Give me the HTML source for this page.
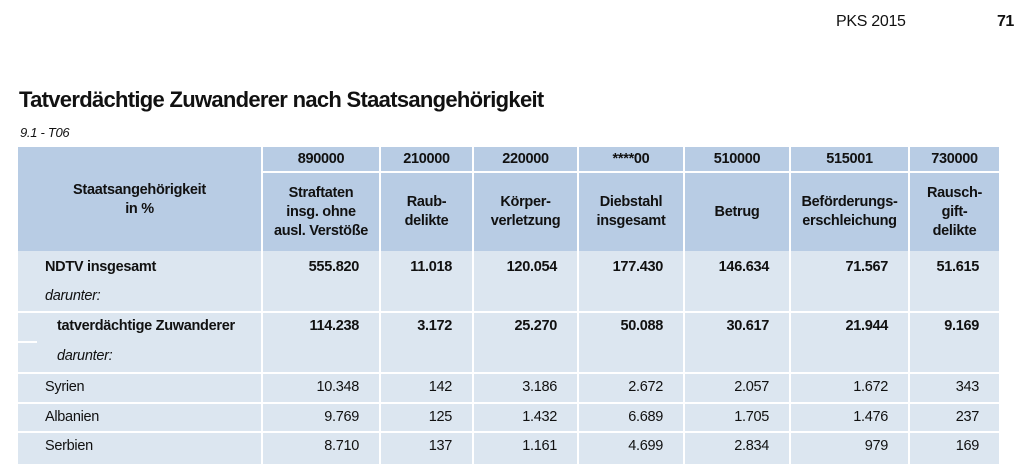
<!DOCTYPE html>
<html><head><meta charset="utf-8"><style>
body{margin:0;width:1025px;height:464px;background:#fff;position:relative;overflow:hidden;font-family:"Liberation Sans",sans-serif;color:#111}
.a{position:absolute}
.c{position:absolute;box-sizing:border-box}
.h{background:#b8cce4}
.b{background:#dce6f0}
.t{position:absolute;font-size:14.5px;white-space:nowrap;letter-spacing:-0.3px}
.bd{font-weight:bold}
.ctr{text-align:center;line-height:19px}
</style></head><body>
<div class="a" style="left:836px;top:13px;font-size:16px;letter-spacing:-0.3px">PKS 2015</div>
<div class="a" style="left:997px;top:13px;font-size:16px;font-weight:bold;letter-spacing:-0.5px">71</div>
<div class="a" style="left:19px;top:87px;font-size:22px;font-weight:bold;letter-spacing:-0.7px">Tatverdächtige Zuwanderer nach Staatsangehörigkeit</div>
<div class="a" style="left:20px;top:125px;font-size:13px;font-style:italic;letter-spacing:-0.3px">9.1 - T06</div>

<div class="c h" style="left:18px;top:147px;width:243px;height:104px"></div>
<div class="t bd ctr" style="left:18px;top:181px;width:243px">Staatsangehörigkeit<br>in %</div>

<div id="cols"></div>
<script>
var cols=[[263,379],[381,472],[474,577],[579,683],[685,789],[791,908],[910,999]];
var codes=["890000","210000","220000","****00","510000","515001","730000"];
var names=[["Straftaten","insg. ohne","ausl. Verstöße"],["Raub-","delikte"],["Körper-","verletzung"],["Diebstahl","insgesamt"],["Betrug"],["Beförderungs-","erschleichung"],["Rausch-","gift-","delikte"]];
var rows=[["555.820","11.018","120.054","177.430","146.634","71.567","51.615"],["114.238","3.172","25.270","50.088","30.617","21.944","9.169"],["10.348","142","3.186","2.672","2.057","1.672","343"],["9.769","125","1.432","6.689","1.705","1.476","237"],["8.710","137","1.161","4.699","2.834","979","169"]];
var rowY=[[251,311],[313,372],[374,402],[404,431],[433,464]];
var textY=[259,318,379,409,438];
var h="";
function box(x,y,w,hh,cls){h+='<div class="c '+cls+'" style="left:'+x+'px;top:'+y+'px;width:'+w+'px;height:'+hh+'px"></div>';}
function txt(x,y,w,s,extra){h+='<div class="t" style="left:'+x+'px;top:'+y+'px;width:'+w+'px;'+extra+'">'+s+'</div>';}
rowY.forEach(function(r){box(18,r[0],243,r[1]-r[0],'b');});
cols.forEach(function(c,i){
  var w=c[1]-c[0];
  box(c[0],147,w,24,'h');
  box(c[0],173,w,78,'h');
  txt(c[0],151,w,codes[i],'text-align:center;font-weight:bold');
  var n=names[i].length, top=212-n*19/2;
  txt(c[0],top,w,names[i].join('<br>'),'text-align:center;font-weight:bold;line-height:19px');
  rowY.forEach(function(r,j){
    box(c[0],r[0],w,r[1]-r[0],'b');
    txt(c[0],textY[j],w-20,rows[j][i],'text-align:right;'+(j<2?'font-weight:bold':''));
  });
});
document.getElementById('cols').innerHTML=h;
</script>
<div class="t bd" style="left:45px;top:259px">NDTV insgesamt</div>
<div class="t" style="left:45px;top:288px;font-style:italic">darunter:</div>
<div class="t bd" style="left:57px;top:318px">tatverdächtige Zuwanderer</div>
<div class="t" style="left:57px;top:348px;font-style:italic">darunter:</div>
<div class="a" style="left:18px;top:341px;width:19px;height:2px;background:#fff"></div>
<div class="t" style="left:45px;top:379px">Syrien</div>
<div class="t" style="left:45px;top:409px">Albanien</div>
<div class="t" style="left:45px;top:438px">Serbien</div>
</body></html>
